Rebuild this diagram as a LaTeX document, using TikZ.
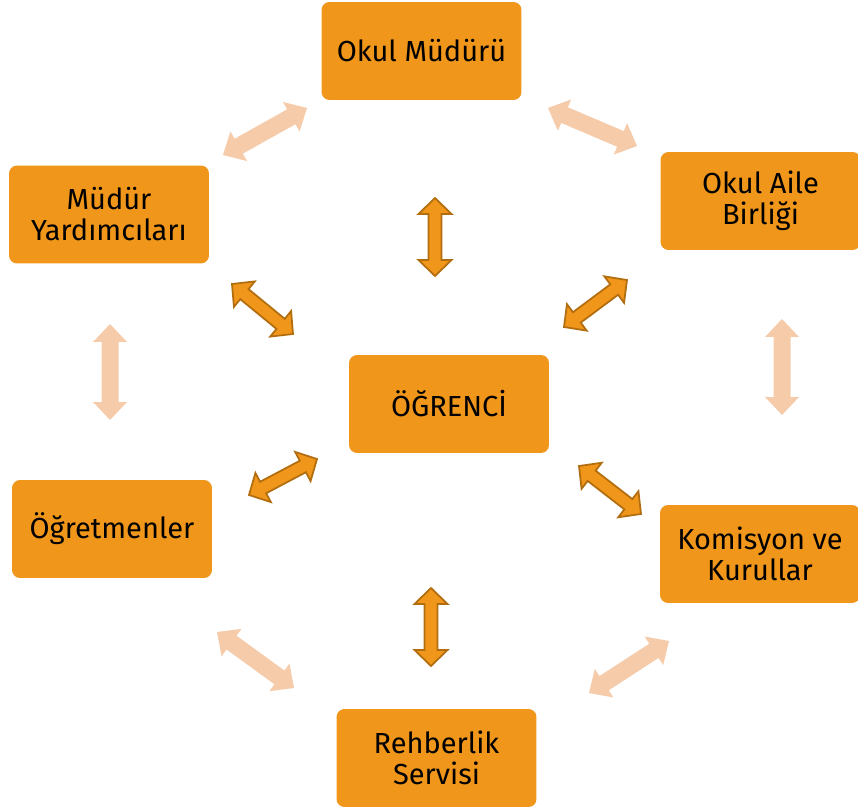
\documentclass[tikz,border=0pt]{standalone}
\usepackage{fontspec}
\setmainfont{Fira Sans}
\usetikzlibrary{calc}
\definecolor{boxorange}{RGB}{240,150,26}
\definecolor{peach}{RGB}{245,203,169}
\definecolor{rim}{RGB}{178,110,14}
\begin{document}
\begin{tikzpicture}[x=0.02cm, y=-0.02cm,
    box/.style={rectangle, rounded corners=0.16cm, fill=boxorange, minimum width=4cm,
        minimum height=1.96cm, align=center, inner sep=0pt, font=\fontsize{16.5}{17.6}\selectfont},
    darkarrow/.style={fill=boxorange, draw=rim, line width=1pt, line join=miter},
    lightarrow/.style={fill=peach}]
\def\twoway#1#2#3{%
    \coordinate (ha) at ($(#2)!\hdl!(#3)$);
    \coordinate (hb) at ($(#3)!\hdl!(#2)$);
    \path[#1] (#2) -- ($(ha)!\hdw!90:(#3)$) -- ($(ha)!\shw!90:(#3)$)
        -- ($(hb)!\shw!-90:(#2)$) -- ($(hb)!\hdw!-90:(#2)$) -- (#3)
        -- ($(hb)!\hdw!90:(#2)$) -- ($(hb)!\shw!90:(#2)$)
        -- ($(ha)!\shw!-90:(#3)$) -- ($(ha)!\hdw!-90:(#3)$) -- cycle;}
\useasboundingbox (0,0) rectangle (858,807);
\node[box] (mudur) at (421.5,51) {Okul Müdürü};
\node[box] (yard) at (109,214.5) {Müdür\\Yardımcıları};
\node[box] (aile) at (760.5,201) {Okul Aile\\Birliği};
\node[box] (ogrenci) at (449,404) {ÖĞRENCİ};
\node[box] (ogretmen) at (112,529) {Öğretmenler};
\node[box] (komisyon) at (760,554) {Komisyon ve\\Kurullar};
\node[box] (rehber) at (436.5,758) {Rehberlik\\Servisi};
% arrows to the pupil
\coordinate (up1) at (435,198); \coordinate (up2) at (435,276);
\coordinate (ul1) at (232,284); \coordinate (ul2) at (293,334);
\coordinate (ur1) at (627,280); \coordinate (ur2) at (564,327);
\coordinate (ll1) at (249,495); \coordinate (ll2) at (317,459);
\coordinate (lr1) at (579,466); \coordinate (lr2) at (641,514);
\coordinate (dn1) at (431,588); \coordinate (dn2) at (431,666);
\def\shw{0.13cm}\def\hdw{0.33cm}\def\hdl{0.32cm}
\twoway{darkarrow}{up1}{up2}
\twoway{darkarrow}{ul1}{ul2}
\twoway{darkarrow}{ur1}{ur2}
\twoway{darkarrow}{ll1}{ll2}
\twoway{darkarrow}{lr1}{lr2}
\twoway{darkarrow}{dn1}{dn2}
% arrows round the ring
\coordinate (r1a) at (223,155); \coordinate (r1b) at (307,108);
\coordinate (r2a) at (548,108); \coordinate (r2b) at (637,146);
\coordinate (r3a) at (782,319); \coordinate (r3b) at (782,415);
\coordinate (r4a) at (669,641); \coordinate (r4b) at (589,693);
\coordinate (r5a) at (294,688); \coordinate (r5b) at (217,632);
\coordinate (r6a) at (110,324); \coordinate (r6b) at (110,420);
\def\shw{0.17cm}\def\hdw{0.34cm}\def\hdl{0.36cm}
\twoway{lightarrow}{r1a}{r1b}
\twoway{lightarrow}{r2a}{r2b}
\twoway{lightarrow}{r3a}{r3b}
\twoway{lightarrow}{r4a}{r4b}
\twoway{lightarrow}{r5a}{r5b}
\twoway{lightarrow}{r6a}{r6b}
\end{tikzpicture}
\end{document}
